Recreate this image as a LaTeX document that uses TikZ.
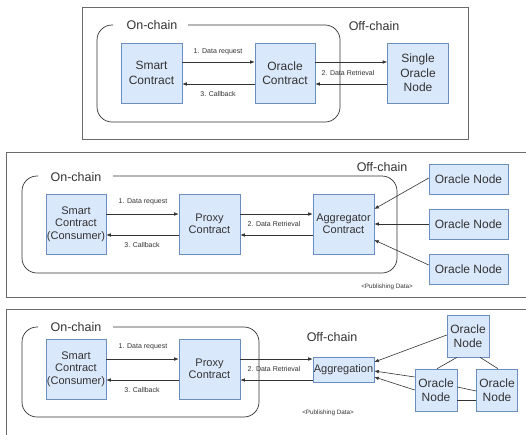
\documentclass[tikz,border=0pt]{standalone}
\usepackage{fontspec}
\setmainfont{Liberation Sans}
\usetikzlibrary{arrows.meta}
\definecolor{boxfill}{HTML}{DAE8FC}
\definecolor{boxline}{HTML}{6C8EBF}
\definecolor{ink}{HTML}{333333}
\definecolor{framec}{HTML}{6A6A6A}
\begin{document}
\begin{tikzpicture}[x=1pt,y=-1pt,
  box/.style={draw=boxline, fill=boxfill, text=ink, align=center, inner sep=0pt,
    font=\fontsize{12}{14.3}\selectfont, line width=0.6pt},
  boxs/.style={box, font=\fontsize{11}{12.4}\selectfont},
  small/.style={font=\fontsize{7}{8}\selectfont, text=ink, inner sep=0pt},
  big/.style={font=\fontsize{12.5}{14}\selectfont, text=ink, inner sep=0pt},
  arr/.style={draw=ink, line width=0.6pt, -{Latex[length=4.5pt,width=3.6pt]}},
  chainline/.style={draw=ink, line width=0.7pt, rounded corners=15pt},
  framel/.style={draw=framec, line width=0.8pt},
  link/.style={draw=ink, line width=0.6pt}]
\useasboundingbox (0,0) rectangle (526,434);
\fill[white] (0,0) rectangle (526,434);

% ---------------- top panel ----------------
\draw[framel] (82,7) rectangle (468,139);
\draw[chainline] (188,25) -- (340,25) -- (340,122) -- (97,122) -- (97,25) -- (113,25);
\node[big] (on1) at (152,25) {On-chain};
\node[big] (off1) at (374,26) {Off-chain};
\node[box, minimum width=61pt, minimum height=60pt] (sc1) at (151.5,73) {Smart\\Contract};
\node[box, minimum width=60pt, minimum height=60pt] (oc1) at (285,73) {Oracle\\Contract};
\node[box, minimum width=61pt, minimum height=60pt] (son) at (418,73) {Single\\Oracle\\Node};
\draw[arr] ([yshift=11pt]sc1.east) -- ([yshift=11pt]oc1.west);
\draw[arr] ([yshift=-11pt]oc1.west) -- ([yshift=-11pt]sc1.east);
\draw[arr] ([yshift=11pt]oc1.east) -- ([yshift=11pt]son.west);
\draw[arr] ([yshift=-11pt]son.west) -- ([yshift=-11pt]oc1.east);
\node[small] (r1) at (218,52) {1. Data request};
\node[small] (c1) at (218,94) {3. Callback};
\node[small] (d1) at (348,73) {2. Data Retrieval};

% ---------------- middle panel ----------------
\draw[framel] (527,152) -- (6,152) -- (6,297) -- (527,297);
\draw[chainline] (113,176) -- (397,176) -- (397,273) -- (22,273) -- (22,176) -- (38,176);
\node[big] (on2) at (76,177) {On-chain};
\node[big] (off2) at (382,167) {Off-chain};
\node[boxs, minimum width=60pt, minimum height=60pt] (sc2) at (76,224) {Smart\\Contract\\(Consumer)};
\node[boxs, minimum width=61pt, minimum height=60pt] (px2) at (209.5,224) {Proxy\\Contract};
\node[boxs, minimum width=61pt, minimum height=60pt] (ag2) at (343.5,224) {Aggregator\\Contract};
\node[box, minimum width=79pt, minimum height=30pt] (n21) at (468.5,179) {Oracle Node};
\node[box, minimum width=79pt, minimum height=30pt] (n22) at (468.5,224) {Oracle Node};
\node[box, minimum width=79pt, minimum height=30pt] (n23) at (468.5,269) {Oracle Node};
\draw[arr] ([yshift=10pt]sc2.east) -- ([yshift=10pt]px2.west);
\draw[arr] ([yshift=-11pt]px2.west) -- ([yshift=-11pt]sc2.east);
\draw[arr] ([yshift=10pt]px2.east) -- ([yshift=10pt]ag2.west);
\draw[arr] ([yshift=-11pt]ag2.west) -- ([yshift=-11pt]px2.east);
\draw[arr] ([yshift=1pt]n21.west) -- ([yshift=15pt]ag2.east);
\draw[arr] (n22.west) -- (ag2.east);
\draw[arr] ([yshift=4pt]n23.west) -- ([yshift=-16pt]ag2.east);
\node[small] (r2) at (143,202) {1. Data request};
\node[small] (c2) at (142,245) {3. Callback};
\node[small] (d2) at (274,224) {2. Data Retrieval};
\node[small, font=\fontsize{6.3}{7}\selectfont] (p2) at (387,287) {<Publishing Data>};

% ---------------- bottom panel ----------------
\draw[framel] (527,309) -- (6,309) -- (6,436);
\draw[chainline] (113,327) -- (259,327) -- (259,417) -- (22,417) -- (22,327) -- (38,327);
\node[big] (on3) at (76,327) {On-chain};
\node[big] (off3) at (332,337) {Off-chain};
\node[boxs, minimum width=60pt, minimum height=60pt] (sc3) at (76,369) {Smart\\Contract\\(Consumer)};
\node[boxs, minimum width=61pt, minimum height=60pt] (px3) at (209.5,369) {Proxy\\Contract};
\node[boxs, minimum width=61pt, minimum height=25pt] (ag3) at (343.5,369.5) {Aggregation};
\node[box, minimum width=42pt, minimum height=42pt] (nt) at (468,336) {Oracle\\Node};
\node[box, minimum width=42pt, minimum height=42pt] (nl) at (436,390) {Oracle\\Node};
\node[box, minimum width=41pt, minimum height=42pt] (nr) at (497,390) {Oracle\\Node};
\coordinate (rq3) at ([yshift=10pt]px3.east);
\coordinate (cb3) at ([yshift=-11pt]px3.east);
\draw[arr] ([yshift=10pt]sc3.east) -- ([yshift=10pt]px3.west);
\draw[arr] ([yshift=-11pt]px3.west) -- ([yshift=-11pt]sc3.east);
\draw[arr] (rq3) -- (rq3 -| ag3.west);
\draw[arr] (cb3 -| ag3.west) -- (cb3);
\draw[arr] ([yshift=1pt]nt.west) -- ([yshift=7.5pt]ag3.east);
\draw[arr] ([yshift=13pt]nl.west) -- ([yshift=-1.5pt]ag3.east);
\draw[arr] (nl.west) -- ([yshift=-7.5pt]ag3.east);
\draw[link] ([xshift=-11pt]nt.south) -- ([xshift=1pt]nl.north);
\draw[link] ([xshift=12pt]nt.south) -- ([xshift=1pt]nr.north);
\draw[link] ([yshift=3pt]nl.east) -- ([yshift=-1pt]nr.west);
\draw[link] ([yshift=-10pt]nl.east) -- ([yshift=-10pt]nr.west);
\node[small] (r3) at (143,347) {1. Data request};
\node[small] (c3) at (142,390) {3. Callback};
\node[small] (d3) at (274,369) {2. Data Retrieval};
\node[small, font=\fontsize{6.3}{7}\selectfont] (p3) at (328,413) {<Publishing Data>};
\end{tikzpicture}
\end{document}
